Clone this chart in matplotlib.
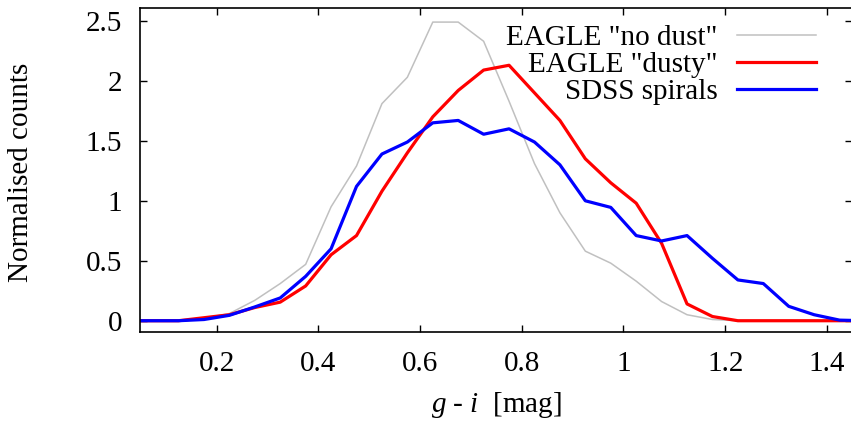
import matplotlib
matplotlib.use("Agg")
import matplotlib.pyplot as plt
import numpy as np

# bin centres (g - i colour)
gi = [0.025, 0.075, 0.125, 0.175, 0.225, 0.275, 0.325, 0.375, 0.425, 0.475,
      0.525, 0.575, 0.625, 0.675, 0.725, 0.775, 0.825, 0.875, 0.925, 0.975,
      1.025, 1.075, 1.125, 1.175, 1.225, 1.275, 1.325, 1.375, 1.425, 1.475]

eagle_nodust = [0.0, 0.0, 0.0, 0.02, 0.06, 0.17, 0.31, 0.47, 0.95, 1.29,
                1.81, 2.03, 2.49, 2.49, 2.33, 1.83, 1.31, 0.90, 0.58, 0.48,
                0.33, 0.16, 0.05, 0.01, 0.0, 0.0, 0.0, 0.0, 0.0, 0.0]

eagle_dusty = [0.0, 0.0, 0.0, 0.025, 0.05, 0.11, 0.155, 0.29, 0.55, 0.71,
               1.08, 1.40, 1.70, 1.92, 2.09, 2.13, 1.90, 1.67, 1.35, 1.15,
               0.98, 0.645, 0.14, 0.035, 0.0, 0.0, 0.0, 0.0, 0.0, 0.0]

sdss_spirals = [0.0, 0.0, 0.0, 0.01, 0.045, 0.115, 0.19, 0.37, 0.60, 1.12,
                1.39, 1.49, 1.65, 1.67, 1.555, 1.60, 1.49, 1.30, 1.00, 0.945,
                0.71, 0.665, 0.71, 0.52, 0.34, 0.31, 0.12, 0.05, 0.005, 0.0]

labels = ['EAGLE "no dust"', 'EAGLE "dusty"', 'SDSS spirals']
xticks = [0.2, 0.4, 0.6, 0.8, 1.0, 1.2, 1.4]
xticklabels = ["0.2", "0.4", "0.6", "0.8", "1", "1.2", "1.4"]
yticks = [0, 0.5, 1.0, 1.5, 2.0, 2.5]
yticklabels = ["0", "0.5", "1", "1.5", "2", "2.5"]

plt.rcParams['font.family'] = ['Liberation Serif', 'DejaVu Serif']
plt.rcParams['mathtext.fontset'] = 'custom'
plt.rcParams['mathtext.rm'] = 'Liberation Serif'
plt.rcParams['mathtext.it'] = 'Liberation Serif:italic'

W, H = 851, 421
fig = plt.figure(figsize=(W / 100, H / 100), dpi=100)
left, right, top, bottom = 140.4, 852.3, 8.3, 332.0
ax = fig.add_axes([left / W, 1 - bottom / H, (right - left) / W, (bottom - top) / H])

fs = 21
ax.plot(gi, eagle_nodust, color='#c0c0c0', lw=1.1, label=labels[0])
ax.plot(gi, eagle_dusty, color='#ff0000', lw=2.3, label=labels[1])
ax.plot(gi, sdss_spirals, color='#0000ff', lw=2.3, label=labels[2])

ax.set_xlim(0.05, 1.45)
ax.set_ylim(-0.094, 2.605)
ax.set_xticks(xticks)
ax.set_xticklabels(xticklabels, fontsize=fs)
ax.set_yticks(yticks)
ax.set_yticklabels(yticklabels, fontsize=fs)
ax.tick_params(direction='in', length=5, width=1.0, top=True, right=True,
               labeltop=False, labelright=False)
ax.tick_params(axis='x', pad=14)
ax.tick_params(axis='y', pad=13)
for s in ax.spines.values():
    s.set_linewidth(1.2)

bp = 0.57
fs_px = fs * 100 / 72
leg = ax.legend(loc='upper right',
                bbox_to_anchor=((816 + bp * fs_px - left) / (right - left), 1.0),
                frameon=False, markerfirst=False, fontsize=fs,
                handlelength=2.7, handletextpad=0.68, labelspacing=0.02,
                borderaxespad=0.0, borderpad=bp)

fig.text(21 / W, 1 - 172 / H, 'Normalised counts', rotation=90,
         ha='center', va='center', fontsize=fs)
fig.text(496 / W, 1 - 405 / H, r'$g$ - $i$  [mag]', ha='center', va='center', fontsize=fs)

fig.savefig('out.png', dpi=100)
